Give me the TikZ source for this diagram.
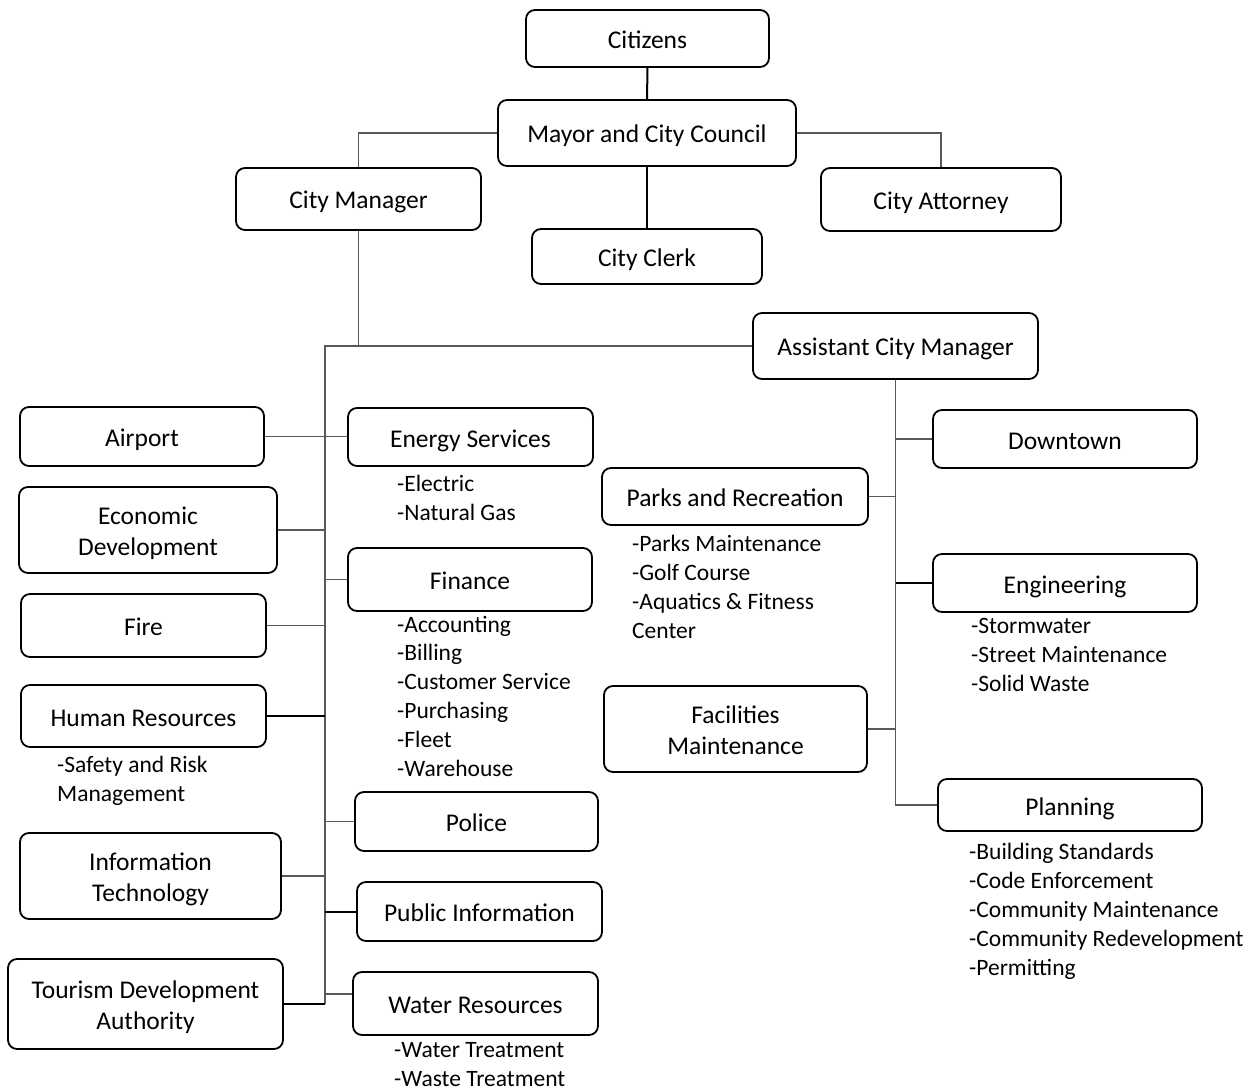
\documentclass[tikz,border=0pt]{standalone}
\usepackage{fontspec}
\setmainfont{Carlito}
\usepackage{tikz}
\usetikzlibrary{positioning}
\tikzset{
  unit/.style   = {draw, line width=1.8pt, rounded corners=9pt, align=center,
                   inner sep=0pt, font=\fontsize{25.5}{31}\selectfont},
  oneline/.style = {unit, text height=24pt, text depth=4pt},
  twoline/.style = {unit, text height=54pt, text depth=4pt},
  items/.style  = {anchor=base west, align=left, inner sep=0pt,
                   font=\fontsize{23.5}{28.8}\selectfont},
  link/.style   = {draw, line width=1.2pt, black!65},
  boldlink/.style = {draw, line width=2pt, black}
}

\begin{document}
\begin{tikzpicture}[x=1pt,y=-1pt]
\useasboundingbox (0,0) rectangle (1251,1091);

% top of the chart
\node[oneline, minimum width=243, minimum height=57] (citizens) at (647.5,38.5) {Citizens};
\node[oneline, minimum width=298, minimum height=66] (mayor) at (647,133) {Mayor and City Council};
\node[oneline, minimum width=245, minimum height=62] (cmgr) at (358.5,199) {City Manager};
\node[oneline, minimum width=230, minimum height=55] (clerk) at (647,256.5) {City Clerk};
\node[oneline, minimum width=240, minimum height=63] (attorney) at (941,199.5) {City Attorney};
\node[oneline, minimum width=285, minimum height=66] (acm) at (895.5,346) {Assistant City Manager};

% departments under the city manager, left column
\node[oneline, minimum width=244, minimum height=59] (airport) at (142,436.5) {Airport};
\node[twoline, minimum width=258, minimum height=86] (econ) at (148,530) {Economic\\Development};
\node[oneline, minimum width=245, minimum height=63] (fire) at (143.5,625.5) {Fire};
\node[oneline, minimum width=245, minimum height=62] (hr) at (143.5,716) {Human Resources};
\node[twoline, minimum width=261, minimum height=86] (infotech) at (150.5,876) {Information\\Technology};
\node[twoline, minimum width=275, minimum height=90] (tourism) at (145.5,1004) {Tourism Development\\Authority};

% departments under the city manager, right column
\node[oneline, minimum width=245, minimum height=58] (energy) at (470.5,437) {Energy Services};
\node[oneline, minimum width=244, minimum height=63] (finance) at (470,579.5) {Finance};
\node[oneline, minimum width=243, minimum height=59] (police) at (476.5,821.5) {Police};
\node[oneline, minimum width=245, minimum height=59] (pubinfo) at (479.5,911.5) {Public Information};
\node[oneline, minimum width=245, minimum height=63] (water) at (475.5,1003.5) {Water Resources};

% departments under the assistant city manager
\node[oneline, minimum width=264, minimum height=58] (downtown) at (1065,439) {Downtown};
\node[oneline, minimum width=266, minimum height=57] (parks) at (735,496.5) {Parks and Recreation};
\node[oneline, minimum width=264, minimum height=58] (engineering) at (1065,583) {Engineering};
\node[twoline, minimum width=263, minimum height=86] (facilities) at (735.5,729) {Facilities\\Maintenance};
\node[oneline, minimum width=264, minimum height=52] (planning) at (1070,805) {Planning};

% divisions (placed by the baseline of their last line)
\node[items] (energyDiv) at (397,520) {-Electric\\-Natural Gas};
\node[items] (financeDiv) at (397,776) {-Accounting\\-Billing\\-Customer Service\\-Purchasing\\-Fleet\\-Warehouse};
\node[items] (hrDiv) at (57,801.5) {-Safety and Risk\\Management};
\node[items] (waterDiv) at (394,1086) {-Water Treatment\\-Waste Treatment};
\node[items] (parksDiv) at (632,638) {-Parks Maintenance\\-Golf Course\\-Aquatics \& Fitness\\Center};
\node[items] (engDiv) at (971,691.5) {-Stormwater\\-Street Maintenance\\-Solid Waste};
\node[items] (planDiv) at (969,975) {-Building Standards\\-Code Enforcement\\-Community Maintenance\\-Community Redevelopment\\-Permitting};

% connectors
\coordinate (spine) at (325,346);
\draw[boldlink] (citizens.south) -- (mayor.north);
\draw[boldlink] (mayor.south) -- (clerk.north);
\draw[link] (mayor.west) -| (cmgr.north);
\draw[link] (mayor.east) -| (attorney.north);
\draw[link] (cmgr.south) -- (cmgr.south |- spine);
\draw[link] (tourism.east -| spine) -- (spine) -- (spine -| acm.west);

\draw[link] (airport.east) -- (airport.east -| energy.west);
\draw[link] (econ.east) -- (econ.east -| spine);
\draw[link] (finance.west) -- (finance.west -| spine);
\draw[link] (fire.east) -- (fire.east -| spine);
\draw[boldlink] (hr.east) -- (hr.east -| spine);
\draw[link] (police.west) -- (police.west -| spine);
\draw[link] (infotech.east) -- (infotech.east -| spine);
\draw[boldlink] (pubinfo.west) -- (pubinfo.west -| spine);
\draw[link] ([yshift=9.5pt]water.west) -- ([yshift=9.5pt]water.west -| spine);
\draw[boldlink] (tourism.east) -- (tourism.east -| spine);

\draw[link] (acm.south) |- (planning.west);
\draw[link] (downtown.west) -- (downtown.west -| acm.south);
\draw[link] (parks.east) -- (parks.east -| acm.south);
\draw[boldlink] (engineering.west) -- (engineering.west -| acm.south);
\draw[link] (facilities.east) -- (facilities.east -| acm.south);

\end{tikzpicture}
\end{document}
